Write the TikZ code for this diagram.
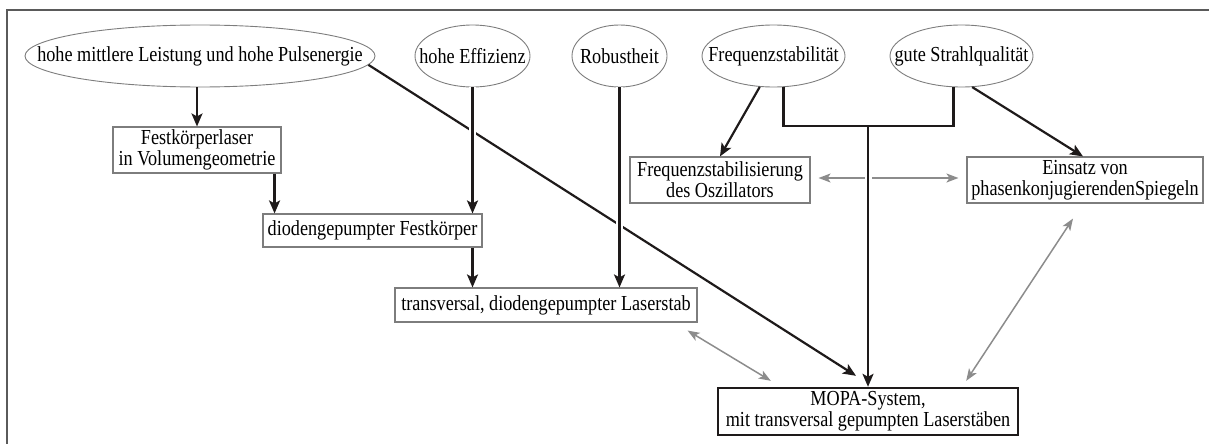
\documentclass[tikz,border=0pt]{standalone}
\usepackage{fontspec}
\setmainfont[FakeStretch=0.85]{Liberation Serif}
\usepackage{tikz}
\usetikzlibrary{positioning,arrows.meta,shapes}
\definecolor{frame}{HTML}{5a5a5a}
\definecolor{rim}{HTML}{7d7d7d}
\definecolor{link}{HTML}{1e1a1a}
\definecolor{relation}{HTML}{8c8c8c}
\newcommand{\ovaltext}[1]{\makebox[0pt]{#1}}

\begin{document}
\begin{tikzpicture}[
    x=1pt, y=-1pt,
    font=\fontsize{21.4}{21}\selectfont,
    goal/.style = {ellipse, draw=rim, line width=0.9pt, inner sep=0pt, minimum height=62pt},
    box/.style = {rectangle, draw=rim, line width=1.1pt, inner sep=2pt, align=center},
    system/.style = {rectangle, draw=link, line width=2.4pt, inner sep=2pt, align=center},
    flow/.style = {draw=link, line width=2.2pt, -{Stealth[length=13pt,width=11pt,inset=3pt]}},
    trunk/.style = {draw=link, line width=2.2pt},
    relation/.style = {draw=relation, line width=1.5pt, {Stealth[length=12pt,width=9pt,inset=3pt]}-{Stealth[length=12pt,width=9pt,inset=3pt]}},
    bridge/.style = {preaction={draw=white, line width=7pt, -}},
]
    \useasboundingbox (0,0) rectangle (1209,444);
    \draw[frame, line width=2pt] (7,444) -- (7,10) -- (1209,10);

    % requirements
    \node[goal, minimum width=350pt] (e1) at (200,56) {\ovaltext{hohe mittlere Leistung und hohe Pulsenergie}};
    \node[goal, minimum width=115pt] (e2) at (472.5,56) {\ovaltext{hohe Effizienz}};
    \node[goal, minimum width=95pt] (e3) at (619.5,56) {\ovaltext{Robustheit}};
    \node[goal, minimum width=143pt] (e4) at (773.5,56) {\ovaltext{Frequenzstabilität}};
    \node[goal, minimum width=143pt] (e5) at (961.5,56) {\ovaltext{gute Strahlqualität}};

    % solutions
    \node[box, minimum width=168pt, minimum height=46pt] (b1) at (197,150) {Festkörperlaser\\in Volumengeometrie};
    \node[box, minimum width=219pt, minimum height=33pt] (b2) at (372.5,230.5) {diodengepumpter Festkörper};
    \node[box, minimum width=302pt, minimum height=34pt] (b3) at (546,305) {transversal, diodengepumpter Laserstab};
    \node[box, minimum width=180pt, minimum height=46pt] (b4) at (720,180) {Frequenzstabilisierung\\des Oszillators};
    \node[box, minimum width=236pt, minimum height=46pt] (b5) at (1085,180) {Einsatz von\\phasenkonjugierendenSpiegeln};
    \node[system, minimum width=300pt, minimum height=47pt] (mopa) at (868,411.5) {MOPA-System,\\mit transversal gepumpten Laserstäben};

    \coordinate (b1out) at ([xshift=-7pt]b1.south east);
    \coordinate (split) at (868,126);

    % connections
    \draw[flow] (e1.-3) -- ([xshift=-12pt,yshift=11pt]mopa.north);
    \draw[flow] (b1.north |- e1.south) -- (b1.north);
    \draw[flow] (b1out) -- (b1out |- b2.north);
    \draw[flow, bridge] (e2.south) -- (e2.south |- b2.north);
    \draw[flow] (e2.south |- b2.south) -- (e2.south |- b3.north);
    \draw[flow, bridge] (e3.south) -- (e3.south |- b3.north);
    \draw[flow] (e4.246) -- (b4.north);
    \draw[flow] (e5.-71) -- ([xshift=-2pt]b5.north);
    \draw[relation] ([xshift=8pt,yshift=2pt]b4.east) -- ([xshift=-8pt,yshift=2pt]b5.west);
    \draw[flow, bridge] (split) -- (split |- mopa.north);
    \draw[trunk] ([xshift=10pt]e4.south) |- (split) -| ([xshift=-8pt]e5.south);

    % relations
    \draw[relation] ([xshift=-10pt,yshift=-8pt]b3.south east) -- ([xshift=54pt,yshift=6pt]mopa.north west);
    \draw[relation] ([xshift=-12pt,yshift=-15pt]b5.south) -- ([xshift=-53pt,yshift=6pt]mopa.north east);

\end{tikzpicture}
\end{document}
